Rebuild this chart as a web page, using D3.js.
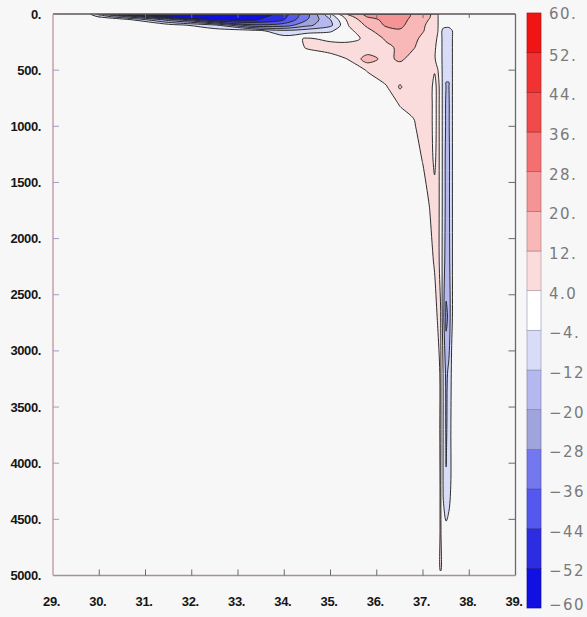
<!DOCTYPE html>
<html>
<head>
<meta charset="utf-8">
<script src="https://cdn.jsdelivr.net/npm/d3@7"></script>
<style>
  html, body { margin: 0; padding: 0; background: #f7f7f7; }
  svg { display: block; }
</style>
</head>
<body>
<svg id="chart" width="587" height="617"></svg>
<script>
// Section grid: longitude nodes (deg E), dense around the deep boundary jet
const lonNodes = [29.0, 29.8, 30.5, 31.5, 32.5, 33.3, 34.0, 34.5, 35.0, 35.4, 35.8, 36.2, 36.5,
                  36.8, 37.0, 37.15, 37.25, 37.32, 37.38, 37.44, 37.50, 37.56, 37.62, 37.70, 38.0, 39.0];
// Depth nodes (m), dense near the surface
const depthNodes = [0, 20, 50, 100, 150, 220, 300, 400, 500, 650, 800, 1000, 1300, 1700,
                    2200, 2700, 3200, 3700, 4200, 4600, 4950, 5000];

// Field values on the grid, one row per depth node (west -> east)
const field = [
  [0, -3, -48, -58, -60, -60, -48, -30, -4.5, 14, 22, 26, 26, 18, 15, 13, 8, 4.5, 0, 0, 0, 0, 0, 0, 0, 0],
  [0, 0, -22, -57, -58, -58, -46, -30, -8, 10, 21, 25, 26, 18, 15, 12.5, 7, 4.5, 0, 0, 0, 0, 0, 0, 0, 0],
  [0, 0, 0, -24, -54, -54, -44, -28, -12, 7, 17, 22, 24, 17, 14, 11.5, 7, 4.5, 0, 0, 0, 0, 0, 0, 0, 0],
  [0, 0, 0, 0, -10, -34, -32, -22, -14, 4.5, 13.5, 21, 22, 16, 13, 10, 7, 4.5, 0, 0, 0, 0, 0, 0, 0, 0],
  [0, 0, 0, 0, 0, 0, -10, -8, -5, 2, 10, 17, 19, 15, 12.5, 9, 6, 4.2, 0, -8, -10, -10, -5, 0, 0, 0],
  [0, 0, 0, 0, 0, 0, 0, 5, 2, 1, 6, 13, 15, 14, 10, 8, 6, 3, 0, -8, -11, -11, -5, 0, 0, 0],
  [0, 0, 0, 0, 0, 0, 0, 4.5, 8, 9, 5.5, 10, 13.5, 12.5, 8, 7, 5, 2, 0, -8, -11, -11, -5, 0, 0, 0],
  [0, 0, 0, 0, 0, 0, 0, 0, 0, 4.5, 16, 9, 14, 8, 7, 6, 4.5, 2, 0, -8, -11.5, -11.5, -5, 0, 0, 0],
  [0, 0, 0, 0, 0, 0, 0, 0, 0, 0, 4.5, 11, 6, 7, 6, 6, 4.5, 4.2, 1, -8, -11.5, -11.5, -5, 0, 0, 0],
  [0, 0, 0, 0, 0, 0, 0, 0, 0, 0, 0, 3, 13, 6, 6, 6, 2, 6, 2, -8, -12.2, -12.2, -5, 0, 0, 0],
  [0, 0, 0, 0, 0, 0, 0, 0, 0, 0, 0, 0, 4.5, 5, 6, 6, 2, 6, 2, -8, -13, -13, -5, 0, 0, 0],
  [0, 0, 0, 0, 0, 0, 0, 0, 0, 0, 0, 0, 0, 3.5, 6, 6, 2, 6, 2, -8, -13, -13, -5, 0, 0, 0],
  [0, 0, 0, 0, 0, 0, 0, 0, 0, 0, 0, 0, 0, 0, 4.5, 6, 3, 6, 2, -8, -14, -14, -5, 0, 0, 0],
  [0, 0, 0, 0, 0, 0, 0, 0, 0, 0, 0, 0, 0, 0, 0, 4.5, 6, 6, 2, -8, -14, -14, -5, 0, 0, 0],
  [0, 0, 0, 0, 0, 0, 0, 0, 0, 0, 0, 0, 0, 0, 0, 1, 5, 6, 2, -9, -15, -15, -5, 0, 0, 0],
  [0, 0, 0, 0, 0, 0, 0, 0, 0, 0, 0, 0, 0, 0, 0, 0, 0, 5, 4.5, -10, -22, -18, -5, 0, 0, 0],
  [0, 0, 0, 0, 0, 0, 0, 0, 0, 0, 0, 0, 0, 0, 0, 0, 0, 0, 5.5, -5, -14, -10, -3, 0, 0, 0],
  [0, 0, 0, 0, 0, 0, 0, 0, 0, 0, 0, 0, 0, 0, 0, 0, 0, 0, 5.5, -5, -13, -9, -2, 0, 0, 0],
  [0, 0, 0, 0, 0, 0, 0, 0, 0, 0, 0, 0, 0, 0, 0, 0, 0, 0, 5, -5, -11.5, -8, -2, 0, 0, 0],
  [0, 0, 0, 0, 0, 0, 0, 0, 0, 0, 0, 0, 0, 0, 0, 0, 0, 0, 5, -2, -2, -1, 0, 0, 0, 0],
  [0, 0, 0, 0, 0, 0, 0, 0, 0, 0, 0, 0, 0, 0, 0, 0, 0, 0, 5, 0, 0, 0, 0, 0, 0, 0],
  [0, 0, 0, 0, 0, 0, 0, 0, 0, 0, 0, 0, 0, 0, 0, 0, 0, 0, 0, 0, 0, 0, 0, 0, 0, 0]
];

// Contour levels and the colour of each band [levels[i], levels[i+1]]
const levels = [-60, -52, -44, -36, -28, -20, -12, -4, 4, 12, 20, 28, 36, 44, 52, 60];
const bandColors = ["#1010e0", "#2c2ce0", "#5458ee", "#7478ee", "#a0a4dc", "#b4b8ee", "#d8dcf6",
                    "#ffffff",
                    "#fadcdc", "#f8b8b8", "#f59494", "#f47070", "#f04a4a", "#f03232", "#f01414"];
const levelLabels = ["\u221260", "\u221252", "\u221244", "\u221236", "\u221228", "\u221220", "\u221212", "\u22124.",
                     "4.0", "12.", "20.", "28.", "36.", "44.", "52.", "60."];

const lonTicks = [29, 30, 31, 32, 33, 34, 35, 36, 37, 38, 39];
const lonLabels = ["29.", "30.", "31.", "32.", "33.", "34.", "35.", "36.", "37.", "38.", "39."];
const depthTicks = [0, 500, 1000, 1500, 2000, 2500, 3000, 3500, 4000, 4500, 5000];
const depthLabels = ["0.", "500.", "1000.", "1500.", "2000.", "2500.", "3000.", "3500.", "4000.", "4500.", "5000."];

const svg = d3.select("#chart");
const plot = { left: 53, right: 515.5, top: 14, bottom: 575.5 };

const x = d3.scaleLinear().domain([29, 39]).range([plot.left, plot.right]);
const y = d3.scaleLinear().domain([0, 5000]).range([plot.top, plot.bottom]);

const nx = lonNodes.length, ny = depthNodes.length;
// grid index -> physical coordinate (piecewise linear over the uneven nodes)
const colToLon = d3.scaleLinear().domain(d3.range(nx)).range(lonNodes).clamp(true);
const rowToDepth = d3.scaleLinear().domain(d3.range(ny)).range(depthNodes).clamp(true);

const values = field.flat();
const posThresholds = levels.filter(v => v > 0 && v < 60);   // 4 .. 52
const contourGen = d3.contours().size([nx, ny]).thresholds(posThresholds);
const posBands = contourGen(values);                       // value >= t
const negBands = contourGen(values.map(v => -v));          // value <= -t

const ringLine = d3.line().curve(d3.curveCatmullRomClosed.alpha(0.5));

function toPixels(ring) {
  const pts = [];
  ring.forEach(([cx, cy]) => {
    const p = [x(colToLon(cx - 0.5)), y(rowToDepth(cy - 0.5))];
    const last = pts[pts.length - 1];
    if (!last || Math.abs(last[0] - p[0]) > 0.01 || Math.abs(last[1] - p[1]) > 0.01) pts.push(p);
  });
  if (pts.length > 1) {
    const a = pts[0], b = pts[pts.length - 1];
    if (Math.abs(a[0] - b[0]) < 0.01 && Math.abs(a[1] - b[1]) < 0.01) pts.pop();
  }
  return pts;
}
function geomPath(mp) {
  return mp.coordinates.map(poly => poly.map(r => {
    const pts = toPixels(r);
    return pts.length > 2 ? ringLine(pts) : "";
  }).join("")).join("");
}

svg.append("defs").append("clipPath").attr("id", "plotClip")
  .append("rect")
  .attr("x", plot.left).attr("y", plot.top)
  .attr("width", plot.right - plot.left).attr("height", plot.bottom - plot.top);

const fieldG = svg.append("g").attr("clip-path", "url(#plotClip)");

const layers = [];
negBands.forEach(c => layers.push({ d: geomPath(c), color: bandColors[levels.indexOf(-c.value - 8)] }));
posBands.forEach(c => layers.push({ d: geomPath(c), color: bandColors[levels.indexOf(c.value)] }));

// filled bands
fieldG.selectAll("path.band").data(layers.filter(l => l.d)).join("path")
  .attr("class", "band")
  .attr("d", l => l.d)
  .attr("fill", l => l.color)
  .attr("fill-rule", "evenodd")
  .attr("stroke", "none");

// contour lines
fieldG.selectAll("path.iso").data(layers.filter(l => l.d)).join("path")
  .attr("class", "iso")
  .attr("d", l => l.d)
  .attr("fill", "none")
  .attr("stroke", "#242424")
  .attr("stroke-width", 0.95)
  .attr("stroke-linejoin", "round");

// frame
const frame = svg.append("g");
frame.append("line").attr("x1", plot.left).attr("x2", plot.right).attr("y1", plot.top).attr("y2", plot.top)
  .attr("stroke", "#5e5458").attr("stroke-width", 1.6);
frame.append("line").attr("x1", plot.right).attr("x2", plot.right).attr("y1", plot.top).attr("y2", plot.bottom)
  .attr("stroke", "#6a6a6a").attr("stroke-width", 1.3);
frame.append("line").attr("x1", plot.left).attr("x2", plot.right).attr("y1", plot.bottom).attr("y2", plot.bottom)
  .attr("stroke", "#a89096").attr("stroke-width", 1.4);
frame.append("line").attr("x1", plot.left).attr("x2", plot.left).attr("y1", plot.top).attr("y2", plot.bottom)
  .attr("stroke", "#c09aa6").attr("stroke-width", 1.4);

// ticks (inward)
const ticks = svg.append("g");
lonTicks.slice(1, -1).forEach(v => {
  ticks.append("line").attr("x1", x(v)).attr("x2", x(v)).attr("y1", plot.bottom).attr("y2", plot.bottom - 6)
    .attr("stroke", "#6a6a6a").attr("stroke-width", 1);
  ticks.append("line").attr("x1", x(v)).attr("x2", x(v)).attr("y1", plot.top).attr("y2", plot.top + 4)
    .attr("stroke", "#6a6a6a").attr("stroke-width", 1);
});
depthTicks.slice(1, -1).forEach(v => {
  ticks.append("line").attr("x1", plot.left).attr("x2", plot.left + 6).attr("y1", y(v)).attr("y2", y(v))
    .attr("stroke", "#9aa0c0").attr("stroke-width", 1);
  ticks.append("line").attr("x1", plot.right).attr("x2", plot.right - 7).attr("y1", y(v)).attr("y2", y(v))
    .attr("stroke", "#6a6a6a").attr("stroke-width", 1);
});

// axis labels
const axisFont = "'Liberation Sans', Arial, sans-serif";
svg.append("g").selectAll("text").data(depthTicks).join("text")
  .attr("x", 41).attr("y", d => y(d))
  .attr("text-anchor", "end").attr("dominant-baseline", "central")
  .attr("font-family", axisFont).attr("font-weight", "bold").attr("font-size", 13)
  .attr("letter-spacing", -0.4).attr("fill", "#161616")
  .text((d, i) => depthLabels[i]);

svg.append("g").selectAll("text").data(lonTicks).join("text")
  .attr("x", d => x(d) - 1.5).attr("y", 601)
  .attr("text-anchor", "middle").attr("dominant-baseline", "central")
  .attr("font-family", axisFont).attr("font-weight", "bold").attr("font-size", 13)
  .attr("letter-spacing", -0.4).attr("fill", "#161616")
  .text((d, i) => lonLabels[i]);

// colour bar
const cb = { x: 527, w: 14, top: 13, bottom: 608 };
const bandH = (cb.bottom - cb.top) / (levels.length - 1);
const cbG = svg.append("g");
bandColors.forEach((c, i) => {
  cbG.append("rect")
    .attr("x", cb.x).attr("y", cb.bottom - (i + 1) * bandH)
    .attr("width", cb.w).attr("height", bandH)
    .attr("fill", c)
    .attr("stroke", c === "#ffffff" ? "#9aa0c0" : d3.color(c).darker(0.9).formatHex())
    .attr("stroke-width", 0.7);
});
cbG.selectAll("text").data(levels).join("text")
  .attr("x", 549)
  .attr("y", (d, j) => j === levels.length - 1 ? 14 : Math.min(cb.bottom - j * bandH + 3, 605))
  .attr("dominant-baseline", "central")
  .attr("font-family", "'DejaVu Sans', sans-serif").attr("font-size", 15)
  .attr("letter-spacing", 1.5)
  .attr("fill", "#7a7a7a")
  .text((d, j) => levelLabels[j]);
</script>
</body>
</html>
